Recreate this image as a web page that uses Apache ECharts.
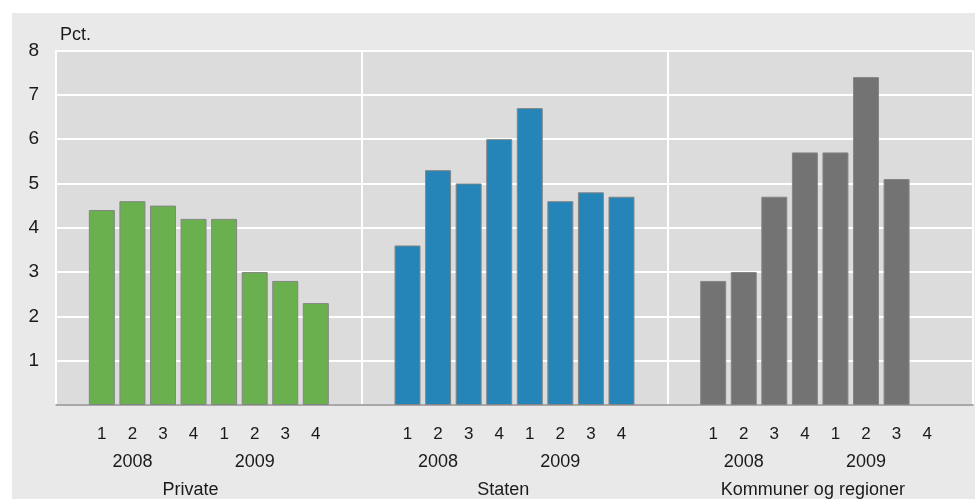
<!DOCTYPE html>
<html>
<head>
<meta charset="utf-8">
<script src="https://cdn.jsdelivr.net/npm/echarts@6/dist/echarts.min.js"></script>
<style>
html,body{margin:0;padding:0;background:#fff;width:975px;height:499px;overflow:hidden;}
#chart{position:absolute;left:12px;top:13px;width:963px;height:486px;}
</style>
</head>
<body>
<div id="chart"></div>
<script>
// ---- data ----
const panels = ['Private', 'Staten', 'Kommuner og regioner'];
const quarters = ['1', '2', '3', '4', '1', '2', '3', '4'];
const years = ['2008', '2009'];
const privateValues = [4.4, 4.6, 4.5, 4.2, 4.2, 3.0, 2.8, 2.3];
const statenValues = [3.6, 5.3, 5.0, 6.0, 6.7, 4.6, 4.8, 4.7];
const kommunerValues = [2.8, 3.0, 4.7, 5.7, 5.7, 7.4, 5.1, null];
const yTicks = [0, 1, 2, 3, 4, 5, 6, 7, 8];
const colors = ['#6ab04e', '#2585b9', '#737373'];

// ---- build slots: each panel = empty slot + 8 quarters + empty slot ----
const seriesValues = [privateValues, statenValues, kommunerValues];
const categories = [];
const quarterLabels = [];
const yearLabels = [];
const panelLabels = [];
const seriesData = [[], [], []];
panels.forEach((p, pi) => {
  for (let s = 0; s < 10; s++) {
    categories.push(p + '-' + s);
    const qi = s - 1;
    quarterLabels.push(qi >= 0 && qi < 8 ? quarters[qi] : '');
    yearLabels.push(s === 2 ? years[0] : (s === 6 ? years[1] : ''));
    panelLabels.push(s === 4 ? p : '');
    for (let k = 0; k < 3; k++) {
      seriesData[k].push(k === pi && qi >= 0 && qi < 8 ? seriesValues[pi][qi] : null);
    }
  }
});

// small horizontal nudges of the panel titles (style, not data)
const panelPadding = [[0, 6, 0, 0], [0, 0, 0, 8], [0, 0, 0, 16]];
const panelAxisData = categories.map((c, i) => {
  const pi = Math.floor(i / 10);
  return panelLabels[i] ? { value: c, textStyle: { padding: panelPadding[pi] } } : c;
});

const textColor = '#1a1a1a';
const font = 'Liberation Sans';

const chart = echarts.init(document.getElementById('chart'));
chart.setOption({
  backgroundColor: '#e9e9e9',
  animation: false,
  textStyle: { fontFamily: font },
  grid: {
    left: 44, right: 2, top: 37.5, bottom: 94,
    show: true, backgroundColor: '#dcdcdc', borderWidth: 0
  },
  xAxis: [
    {
      type: 'category', data: categories, position: 'bottom',
      axisLine: { show: true, lineStyle: { color: '#8c8c8c', width: 1.5 } },
      axisTick: { show: false },
      axisLabel: {
        interval: 0, margin: 21, fontSize: 17, color: textColor, fontFamily: font,
        formatter: (v, i) => quarterLabels[i]
      },
      splitLine: {
        show: true,
        interval: (index) => index === 10 || index === 20,
        lineStyle: { color: '#ffffff', width: 2 }
      }
    },
    {
      type: 'category', data: categories, position: 'bottom', gridIndex: 0,
      axisLine: { show: false }, axisTick: { show: false }, splitLine: { show: false },
      axisLabel: {
        interval: 0, margin: 48, fontSize: 18, color: textColor, fontFamily: font,
        formatter: (v, i) => yearLabels[i]
      }
    },
    {
      type: 'category', data: panelAxisData, position: 'bottom', gridIndex: 0,
      axisLine: { show: false }, axisTick: { show: false }, splitLine: { show: false },
      axisLabel: {
        interval: 0, margin: 76, fontSize: 18, color: textColor, fontFamily: font,
        formatter: (v, i) => panelLabels[i]
      }
    }
  ],
  yAxis: {
    type: 'value', min: yTicks[0], max: yTicks[yTicks.length - 1], interval: 1,
    name: 'Pct.', nameLocation: 'end', nameGap: 6,
    nameTextStyle: { align: 'left', fontSize: 18, color: textColor, fontFamily: font, padding: [0, 0, 0, 4] },
    axisLine: { show: true, lineStyle: { color: '#ffffff', width: 2 } },
    axisTick: { show: false },
    axisLabel: {
      margin: 17, fontSize: 19, color: textColor, fontFamily: font,
      formatter: (v) => (v === 0 ? '' : String(v))
    },
    splitLine: { show: true, lineStyle: { color: '#ffffff', width: 2 } }
  },
  series: panels.map((p, k) => ({
    name: p,
    type: 'bar',
    stack: 'all',
    xAxisIndex: 0,
    barCategoryGap: '15%',
    data: seriesData[k],
    itemStyle: { color: colors[k], borderColor: '#858585', borderWidth: 1 }
  }))
});
</script>
</body>
</html>
